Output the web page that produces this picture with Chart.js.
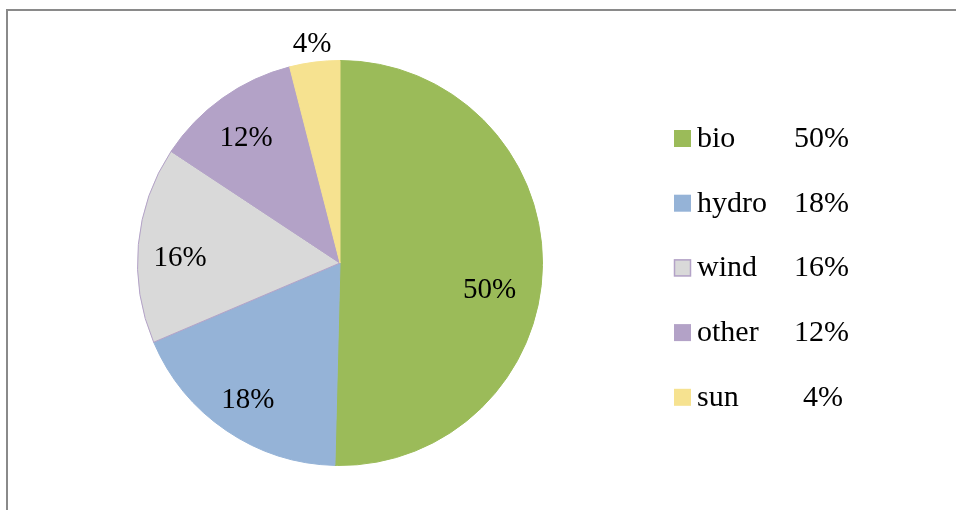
<!DOCTYPE html>
<html>
<head>
<meta charset="utf-8">
<script src="https://cdn.jsdelivr.net/npm/chart.js@4/dist/chart.umd.min.js"></script>
<style>
  body { margin: 0; background: #fff; overflow: hidden; }
  #wrap { position: relative; width: 956px; height: 510px; }
  #frame { position: absolute; left: 6px; top: 9px; width: 1000px; height: 600px;
           border-left: 2px solid #8a8a8a; border-top: 2px solid #8a8a8a; }
  canvas { position: absolute; left: 0; top: 0; }
</style>
</head>
<body>
<div id="wrap">
  <div id="frame"></div>
  <canvas id="energy_chart" width="956" height="510"></canvas>
</div>
<script>
// data
var categories = ["bio", "hydro", "wind", "other", "sun"];
var shares = [50.4, 18.2, 15.7, 11.7, 4.0];
var percentLabels = ["50%", "18%", "16%", "12%", "4%"];
var fillColours = ["#9BBB59", "#95B3D7", "#D9D9D9", "#B3A2C7", "#F6E290"];
var edgeColours = ["#9BBB59", "#95B3D7", "#B3A2C7", "#B3A2C7", "#F6E290"];

// where each percent sits: fraction of radius, and small angle nudge (deg)
var labelRadius = [0.75, 0.81, 0.79, 0.78, 1.10];
var labelNudge = [9, 0, -3, -1, 0];

var serif = '"Liberation Serif", "Times New Roman", serif';

// draws percent labels on (or next to) each slice
var sliceLabels = {
  id: 'sliceLabels',
  afterDatasetsDraw: function(chart) {
    var ctx = chart.ctx;
    var arcs = chart.getDatasetMeta(0).data;
    ctx.save();
    ctx.font = '29px ' + serif;
    ctx.fillStyle = '#000';
    ctx.textAlign = 'center';
    ctx.textBaseline = 'middle';
    arcs.forEach(function(arc, i) {
      var p = arc.getProps(['x', 'y', 'startAngle', 'endAngle', 'outerRadius']);
      var mid = (p.startAngle + p.endAngle) / 2 + labelNudge[i] * Math.PI / 180;
      var r = p.outerRadius * labelRadius[i];
      ctx.fillText(percentLabels[i], p.x + Math.cos(mid) * r, p.y + Math.sin(mid) * r + 2);
    });
    ctx.restore();
  }
};

// legend on the right: square, name, percent
var sideLegend = {
  id: 'sideLegend',
  afterDraw: function(chart) {
    var ctx = chart.ctx;
    var top = 138, step = 64.7;
    ctx.save();
    ctx.font = '30px ' + serif;
    ctx.textBaseline = 'middle';
    categories.forEach(function(name, i) {
      var y = top + i * step;
      ctx.fillStyle = fillColours[i];
      ctx.fillRect(674, y - 8, 17, 17);
      if (edgeColours[i] !== fillColours[i]) {
        ctx.strokeStyle = edgeColours[i];
        ctx.lineWidth = 1.5;
        ctx.strokeRect(674.5, y - 7.5, 16, 16);
      }
      ctx.fillStyle = '#000';
      ctx.textAlign = 'left';
      ctx.fillText(name, 697, y + 1);
      ctx.textAlign = 'right';
      ctx.fillText(percentLabels[i], i === 4 ? 843 : 849, y + 1);
    });
    ctx.restore();
  }
};

var chartData = {
  labels: categories,
  datasets: [{
    data: shares,
    backgroundColor: fillColours,
    borderColor: edgeColours,
    borderWidth: 1
  }]
};

var pieChart = new Chart(document.getElementById('energy_chart'), {
  type: 'pie',
  data: chartData,
  options: {
    responsive: false,
    animation: false,
    layout: { padding: { left: 137, right: 413, top: 60, bottom: 44 } },
    plugins: {
      legend: { display: false },
      tooltip: { enabled: false }
    }
  },
  plugins: [sliceLabels, sideLegend]
});
</script>
</body>
</html>
